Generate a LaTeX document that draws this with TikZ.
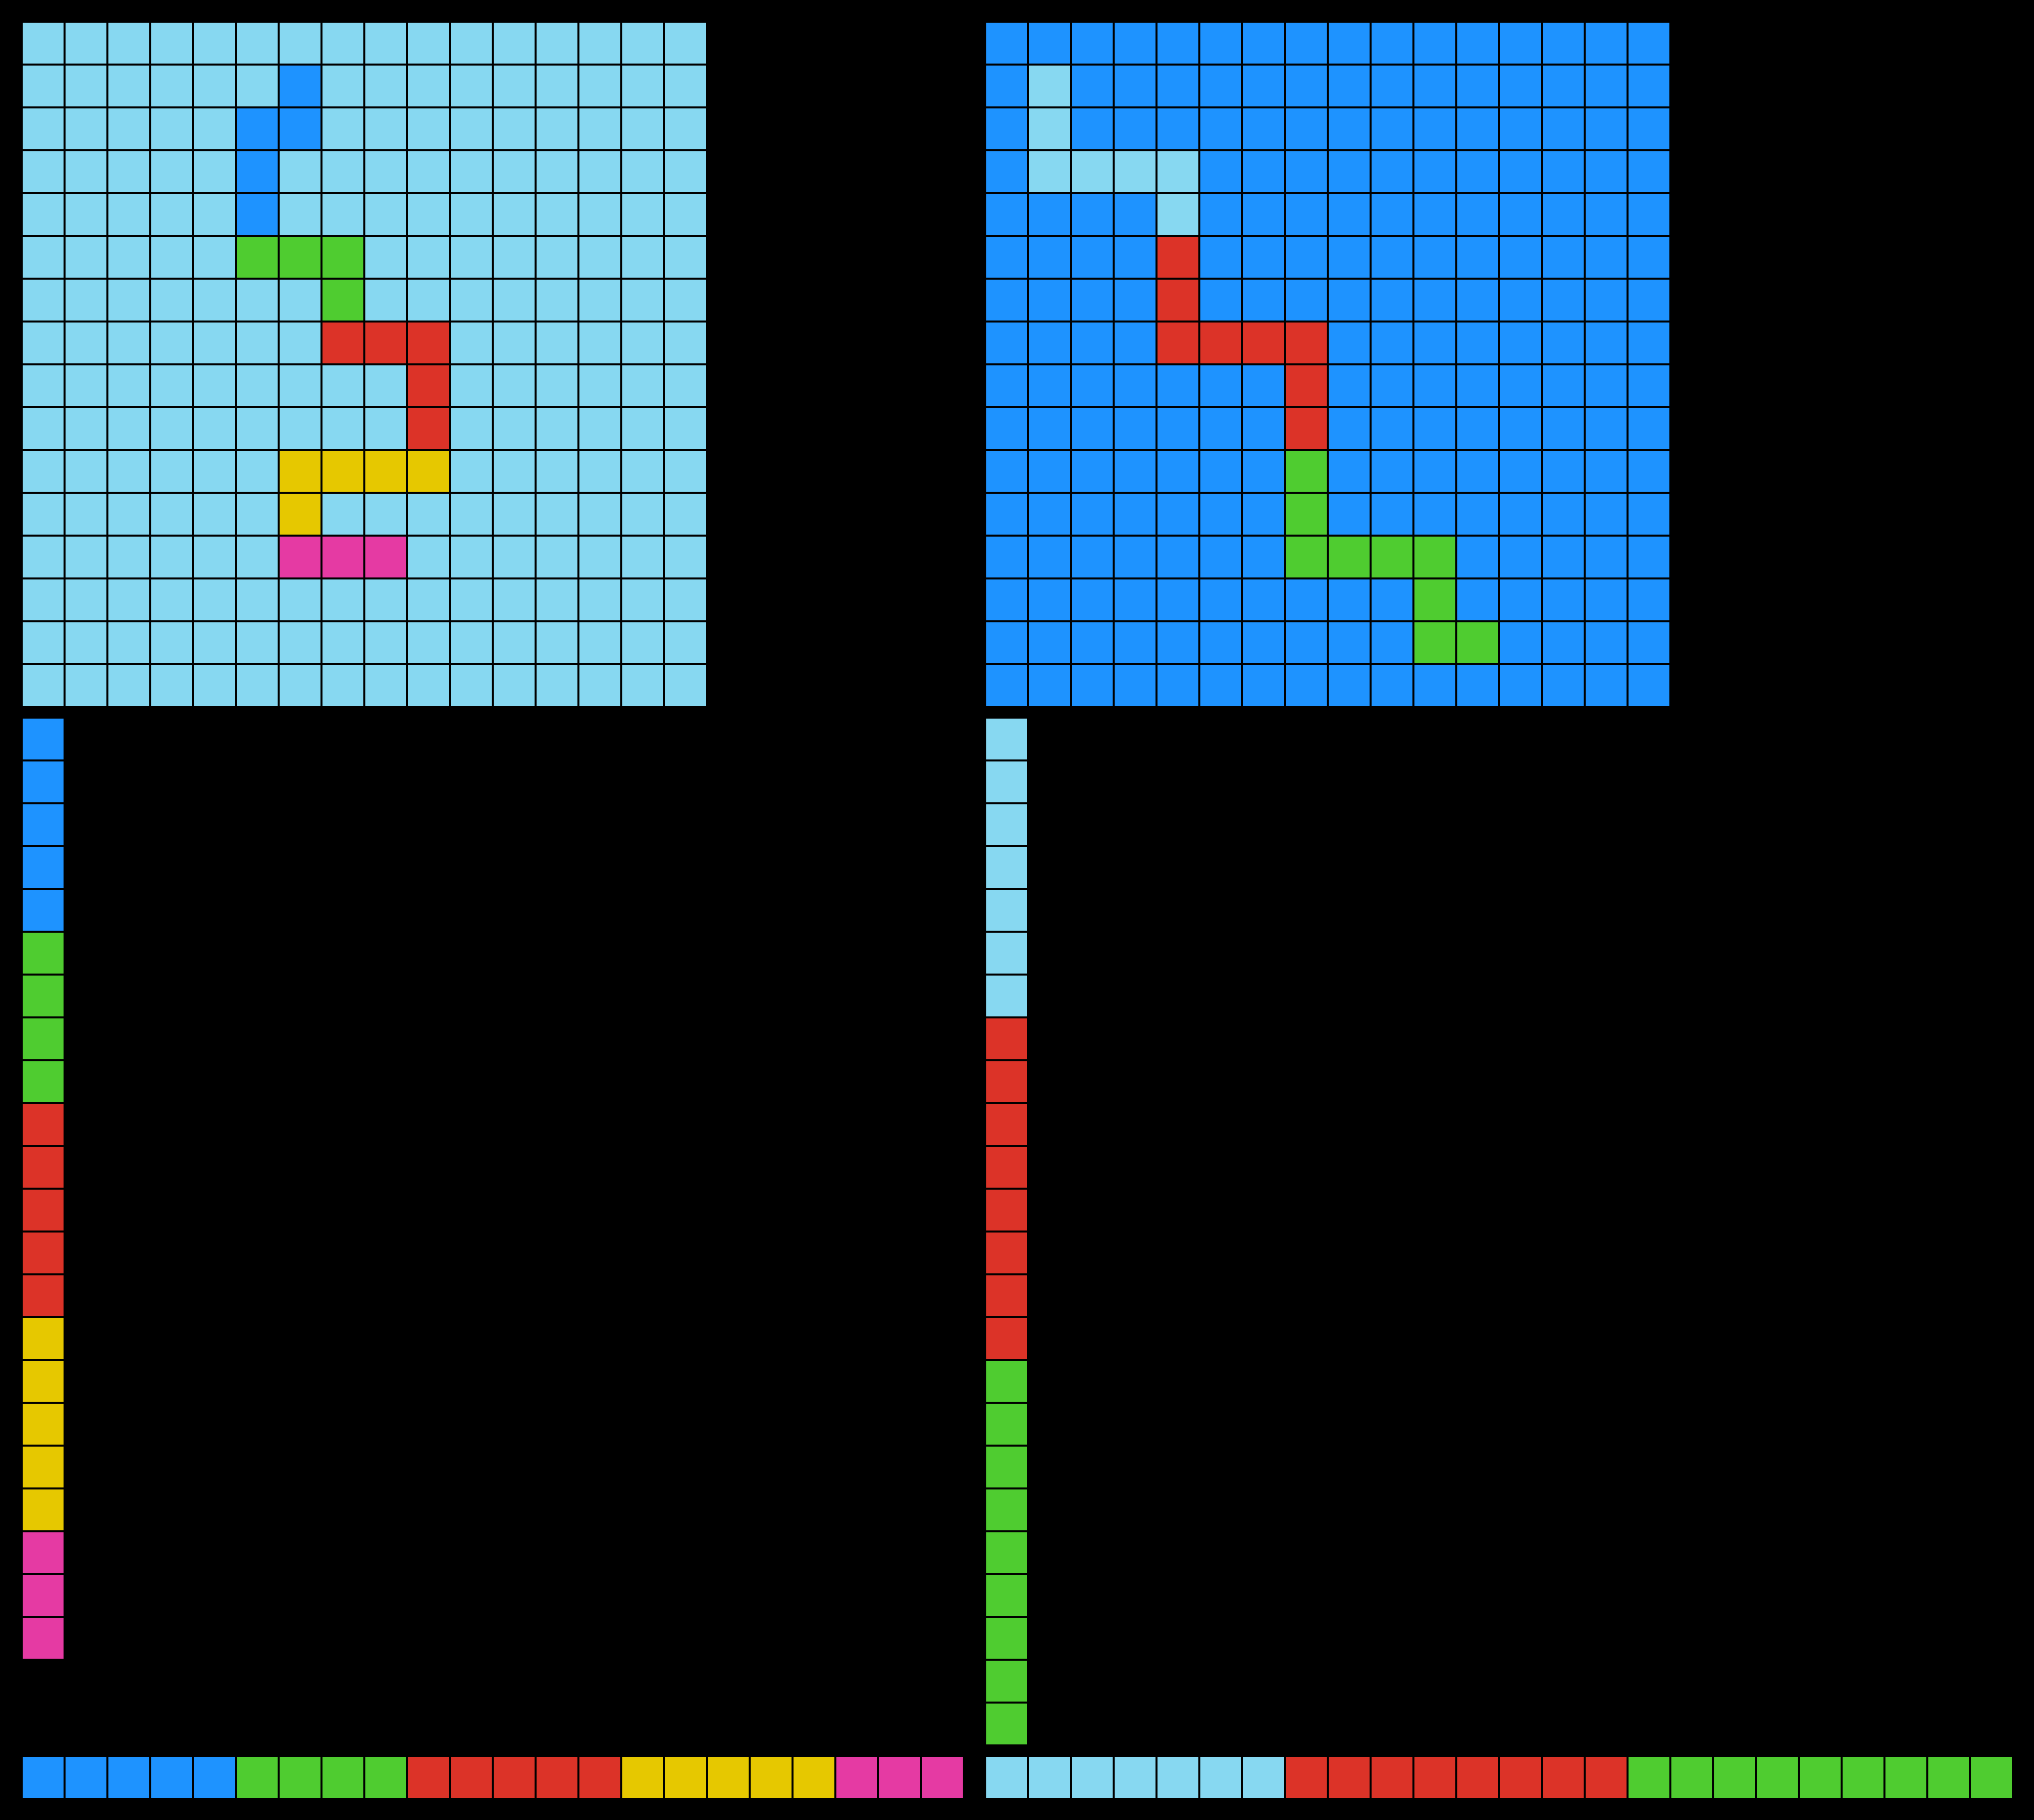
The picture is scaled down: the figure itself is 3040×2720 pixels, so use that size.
\documentclass[tikz,border=0pt]{standalone}
\usepackage{tikz}
\definecolor{arcsky}{HTML}{87D8F1}
\definecolor{arcblue}{HTML}{1E93FF}
\definecolor{arcgreen}{HTML}{4FCC30}
\definecolor{arcred}{HTML}{DC3328}
\definecolor{arcyellow}{HTML}{E6C800}
\definecolor{arcpink}{HTML}{E53AA3}
\tikzstyle{tile}=[draw=none]
% one square of a grid: origin x, origin y, column, row, colour
\newcommand{\gridcell}[5]{\fill[tile,#5] ({#1+64*#3},{#2+64*#4}) rectangle +(61,61);}

\begin{document}
\begin{tikzpicture}[x=0.1mm,y=-0.1mm]
            \fill[black] (0,0) rectangle (3040,2720);
            % left grid
            \foreach \c in {0,...,15} \foreach \r in {0,...,15} {\gridcell{34}{34}{\c}{\r}{arcsky}}
            \foreach \c/\r in {6/1,5/2,6/2,5/3,5/4} {\gridcell{34}{34}{\c}{\r}{arcblue}}
            \foreach \c/\r in {5/5,6/5,7/5,7/6} {\gridcell{34}{34}{\c}{\r}{arcgreen}}
            \foreach \c/\r in {7/7,8/7,9/7,9/8,9/9} {\gridcell{34}{34}{\c}{\r}{arcred}}
            \foreach \c/\r in {6/10,7/10,8/10,9/10,6/11} {\gridcell{34}{34}{\c}{\r}{arcyellow}}
            \foreach \c/\r in {6/12,7/12,8/12} {\gridcell{34}{34}{\c}{\r}{arcpink}}
            % right grid
            \foreach \c in {0,...,15} \foreach \r in {0,...,15} {\gridcell{1474}{34}{\c}{\r}{arcblue}}
            \foreach \c/\r in {1/1,1/2,1/3,2/3,3/3,4/3,4/4} {\gridcell{1474}{34}{\c}{\r}{arcsky}}
            \foreach \c/\r in {4/5,4/6,4/7,5/7,6/7,7/7,7/8,7/9} {\gridcell{1474}{34}{\c}{\r}{arcred}}
            \foreach \c/\r in {7/10,7/11,7/12,8/12,9/12,10/12,10/13,10/14,11/14} {\gridcell{1474}{34}{\c}{\r}{arcgreen}}
            % left column and row
            \foreach \i/\col in {0/arcblue,1/arcblue,2/arcblue,3/arcblue,4/arcblue,
                5/arcgreen,6/arcgreen,7/arcgreen,8/arcgreen,
                9/arcred,10/arcred,11/arcred,12/arcred,13/arcred,
                14/arcyellow,15/arcyellow,16/arcyellow,17/arcyellow,18/arcyellow,
                19/arcpink,20/arcpink,21/arcpink}
                {\gridcell{34}{1074}{0}{\i}{\col} \gridcell{34}{2626}{\i}{0}{\col}}
            % right column and row
            \foreach \i/\col in {0/arcsky,1/arcsky,2/arcsky,3/arcsky,4/arcsky,5/arcsky,6/arcsky,
                7/arcred,8/arcred,9/arcred,10/arcred,11/arcred,12/arcred,13/arcred,14/arcred,
                15/arcgreen,16/arcgreen,17/arcgreen,18/arcgreen,19/arcgreen,20/arcgreen,21/arcgreen,22/arcgreen,23/arcgreen}
                {\gridcell{1474}{1074}{0}{\i}{\col} \gridcell{1474}{2626}{\i}{0}{\col}}
        \end{tikzpicture}
\end{document}
